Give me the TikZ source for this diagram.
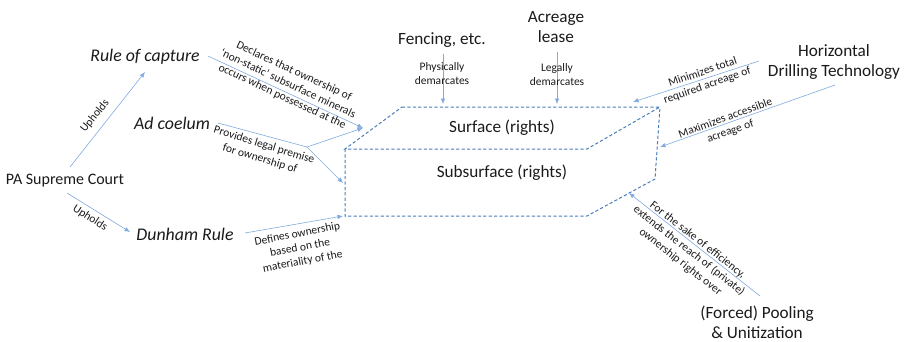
\documentclass[tikz,border=0pt]{standalone}
\usepackage{fontspec}
\setmainfont{Carlito}
\usetikzlibrary{arrows.meta}
\definecolor{arr}{HTML}{80AADF}
\definecolor{dsh}{HTML}{4A7EBB}
\definecolor{txt}{HTML}{1A1A1A}
\begin{document}
\begin{tikzpicture}[x=1pt,y=-1pt,
  big/.style={font=\fontsize{17.2}{20}\selectfont,text=txt,inner sep=0pt,align=center},
  bigi/.style={big,font=\fontsize{17.8}{20}\selectfont\itshape},
  ann/.style={font=\fontsize{11.5}{14}\selectfont,text=txt,inner sep=0pt,align=center},
  sml/.style={font=\fontsize{11.5}{14}\selectfont,text=txt,inner sep=0pt,align=center},
  link/.style={draw=arr,line width=0.6pt},
  arrow/.style={link,-{Latex[length=5.5pt,width=4.5pt]}},
  edge/.style={draw=dsh,line width=1pt,dash pattern=on 3.2pt off 2.2pt}]
\useasboundingbox (0,0) rectangle (908,341);
% main labels
\node[big,font=\fontsize{16}{20}\selectfont] (pa) at (65,181) {PA Supreme Court};
\node[bigi] (roc) at (145,57) {Rule of capture};
\node[bigi] (adc) at (172,123) {Ad coelum};
\node[bigi] (dun) at (185,234) {Dunham Rule};
\node[big] (fen) at (442,40) {Fencing, etc.};
\node[big] (acr) at (556,27) {Acreage\\lease};
\node[big] (hdt) at (834,62) {Horizontal\\Drilling Technology};
\node[big] (pool) at (757,322) {(Forced) Pooling\\\& Unitization};
% block
\coordinate (A) at (402,107);
\coordinate (B) at (660,107);
\coordinate (C) at (587,149);
\coordinate (D) at (345,149);
\coordinate (E) at (345,216);
\coordinate (F) at (587,216);
\coordinate (G) at (655,179);
\draw[edge] (A) -- (B) -- (C) -- (D) -- cycle;
\draw[edge] (D) -- (E) -- (F) -- (G) -- (B);
\node[big] (surf) at (502,128) {Surface (rights)};
\node[big] (sub) at (502,173) {Subsurface (rights)};
% connector points
\coordinate (pa1) at (70,167);
\coordinate (pa2) at (67,193);
\coordinate (roc1) at (145,72);
\coordinate (dun1) at (130,232);
\coordinate (rocs) at (208,56);
\coordinate (adcs) at (218,123);
\coordinate (adcj) at (307,147);
\coordinate (duns) at (245,233);
\coordinate (t1) at (363,128);
\coordinate (t2) at (343,183);
\coordinate (t3) at (343,216);
\coordinate (fens) at (443,54);
\coordinate (fent) at (443,104);
\coordinate (acrs) at (557,52);
\coordinate (acrt) at (557,104);
\coordinate (h1s) at (759,61);
\coordinate (h1t) at (633,102);
\coordinate (h2s) at (835,85);
\coordinate (h2t) at (660,147);
\coordinate (ps) at (760,296);
\coordinate (pt) at (629,193);
% connectors
\draw[arrow] (pa1) -- (roc1);
\draw[arrow] (pa2) -- (dun1);
\draw[arrow] (rocs) -- (t1);
\draw[link] (adcs) -- (adcj);
\draw[arrow] (adcj) -- (t1);
\draw[arrow] (adcj) -- (t2);
\draw[arrow] (duns) -- (t3);
\draw[arrow] (fens) -- (fent);
\draw[arrow] (acrs) -- (acrt);
\draw[arrow] (h1s) -- (h1t);
\draw[arrow] (h2s) -- (h2t);
\draw[arrow] (ps) -- (pt);
% annotations
\node[ann,rotate=51] (u1) at (95,116) {Upholds};
\node[ann,rotate=-33] (u2) at (90,218) {Upholds};
\node[ann,rotate=-25] (l1) at (288,84) {Declares that ownership of\\‘non-static’ subsurface minerals\\occurs when possessed at the};
\node[ann,rotate=-17] (l2) at (262,152) {Provides legal premise\\for ownership of};
\node[ann,rotate=11] (l3) at (300,248) {Defines ownership\\based on the\\materiality of the};
\node[sml] (l4) at (442,74) {Physically\\demarcates};
\node[sml] (l5) at (557,75) {Legally\\demarcates};
\node[ann,rotate=19] (l6) at (705,79) {Minimizes total\\required acreage of};
\node[ann,rotate=20] (l7) at (728,125) {Maximizes accessible\\acreage of};
\node[ann,rotate=-38] (l8) at (689,251) {For the sake of efficiency,\\extends the reach of (private)\\ownership rights over};
\end{tikzpicture}
\end{document}
